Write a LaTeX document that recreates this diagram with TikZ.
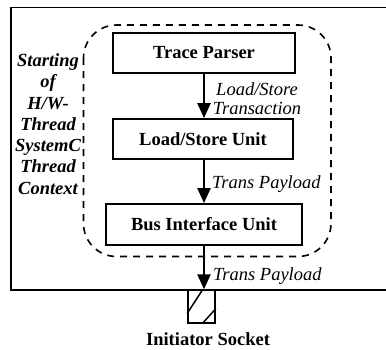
\documentclass[tikz,border=0pt]{standalone}
\usepackage{fontspec}
\setmainfont{Liberation Serif}
\usetikzlibrary{arrows.meta}
\begin{document}
\begin{tikzpicture}[x=1pt,y=-1pt,
  unitbox/.style={draw,line width=1.8pt,inner sep=0pt,font=\fontsize{18.5}{21}\selectfont\bfseries},
  flow/.style={line width=2.4pt,-{Triangle[length=15pt,width=13pt]}},
  lbl/.style={font=\fontsize{18.5}{20}\selectfont\itshape,inner sep=0pt,align=center}]
\useasboundingbox (0,0) rectangle (386,349);
% enclosing module (open to the right)
\draw[line width=1.8pt] (387,7.5) -- (11,7.5) -- (11,290) -- (387,290);
% thread context
\draw[line width=1.6pt,dash pattern=on 7pt off 6pt,rounded corners=33pt]
  (83.5,25) rectangle (331,256.5);
% functional units
\node[unitbox,minimum width=182pt,minimum height=40pt] (tp) at (204,53) {Trace Parser};
\node[unitbox,minimum width=180pt,minimum height=40pt] (lsu) at (203,139) {Load/Store Unit};
\node[unitbox,minimum width=196pt,minimum height=41pt] (biu) at (204,224.5) {Bus Interface Unit};
% initiator socket
\node[draw,line width=1.8pt,minimum width=27pt,minimum height=32.5pt,inner sep=0pt] (sock) at (201.5,306.5) {};
\draw[line width=1.5pt] (sock.west) ++(0,7) -- ++(15,-23);
\draw[line width=1.5pt] (sock.east) ++(0,2) -- ++(-13.5,15);
\node[font=\fontsize{18.5}{21}\selectfont\bfseries,inner sep=0pt] (socklbl) at (208,339.5) {Initiator Socket};
% data flow
\draw[flow] (tp.south -| 204,0) -- (lsu.north -| 204,0);
\draw[flow] (lsu.south -| 204,0) -- (biu.north);
\draw[flow] (biu.south) -- (sock.north -| 204,0);
\node[lbl] (l1) at (257,99) {Load/Store\\[-1pt]Transaction};
\node[lbl,anchor=west] (l2) at (212,184) {Trans Payload};
\node[lbl,anchor=west] (l3) at (213,276) {Trans Payload};
% thread description
\node[font=\fontsize{18.5}{21.3}\selectfont\bfseries\itshape,align=center,inner sep=0pt] (ctx) at (48,124)
  {Starting\\of\\H/W-\\Thread\\SystemC\\Thread\\Context};
\end{tikzpicture}
\end{document}
